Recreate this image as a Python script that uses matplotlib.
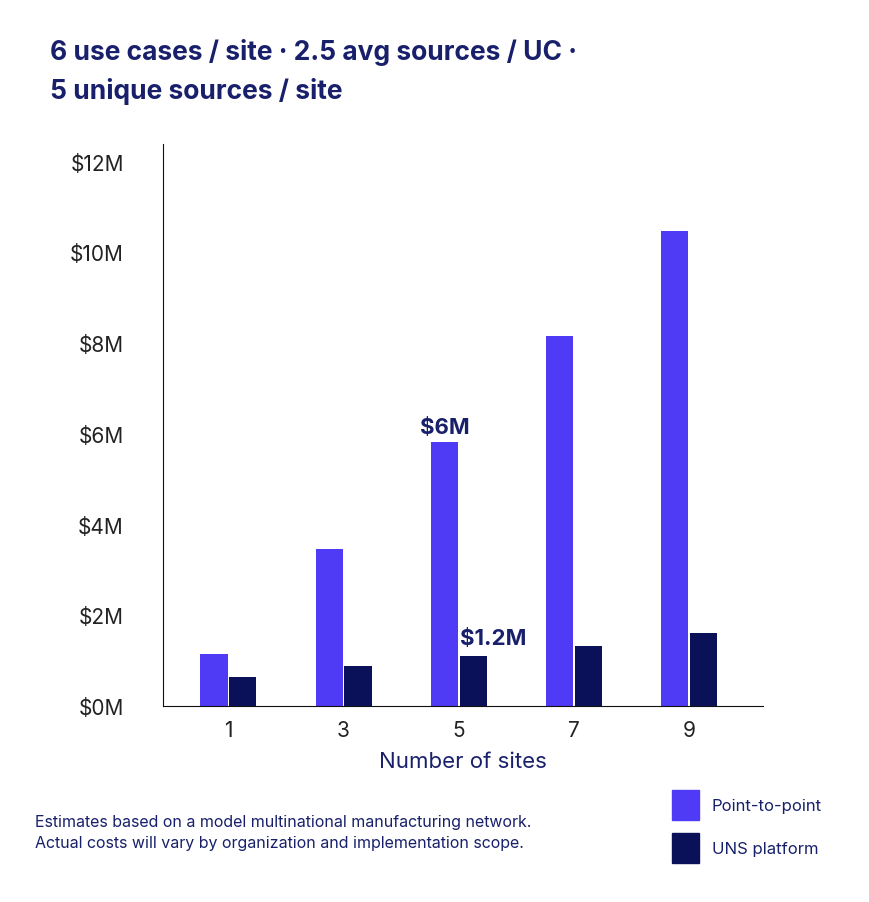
import matplotlib
matplotlib.use("Agg")
import matplotlib.pyplot as plt
from matplotlib.patches import Rectangle

plt.rcParams['font.family'] = ['Inter', 'DejaVu Sans']

sites = ["1", "3", "5", "7", "9"]
p2p = [1.15, 3.46, 5.81, 8.15, 10.46]
uns = [0.64, 0.88, 1.10, 1.32, 1.61]
yticks = [0, 2, 4, 6, 8, 10, 12]

C_P2P = "#4F3AF6"
C_UNS = "#0B1159"
NAVY = "#18206B"

fig = plt.figure(figsize=(8.7, 9.03), dpi=100)
ax = fig.add_axes([0.187, 0.217, 0.69, 0.622])
x = list(range(len(sites)))
w = 0.235
ax.bar([i - 0.125 for i in x], p2p, width=w, color=C_P2P)
ax.bar([i + 0.125 for i in x], uns, width=w, color=C_UNS)
ax.set_xlim(-0.57, 4.64)
ax.set_ylim(0, 12.38)
ax.set_yticks(yticks)
ax.set_yticklabels([f"${v}M" for v in yticks], fontsize=15, color="#222")
ax.set_xticks(x)
ax.set_xticklabels(sites, fontsize=15, color="#222")
ax.tick_params(axis='y', length=0, pad=28)
ax.tick_params(axis='x', length=0, pad=10)
for s in ["top", "right"]:
    ax.spines[s].set_visible(False)
ax.spines["left"].set_color("#111")
ax.spines["bottom"].set_color("#111")
ax.set_xlabel("Number of sites", fontsize=16, color=NAVY, labelpad=8)

ax.text(2 - 0.125, p2p[2] + 0.12, "$6M", ha="center", va="bottom", fontsize=16, fontweight="bold", color=NAVY)
ax.text(2 + 0.3, uns[2] + 0.18, "$1.2M", ha="center", va="bottom", fontsize=16, fontweight="bold", color=NAVY)

fig.text(0.057, 0.942, "6 use cases / site · 2.5 avg sources / UC ·", fontsize=19, fontweight="bold", color=NAVY, va="center")
fig.text(0.057, 0.899, "5 unique sources / site", fontsize=19, fontweight="bold", color=NAVY, va="center")

fig.text(0.04, 0.078, "Estimates based on a model multinational manufacturing network.\nActual costs will vary by organization and implementation scope.",
         fontsize=11.5, color=NAVY, va="center", linespacing=1.5)

fig.patches.append(Rectangle((0.772, 0.091), 0.032, 0.033, transform=fig.transFigure, color=C_P2P))
fig.patches.append(Rectangle((0.772, 0.043), 0.032, 0.033, transform=fig.transFigure, color=C_UNS))
fig.text(0.818, 0.107, "Point-to-point", fontsize=12, color=NAVY, va="center")
fig.text(0.818, 0.059, "UNS platform", fontsize=12, color=NAVY, va="center")

fig.savefig("out.png", dpi=100)
